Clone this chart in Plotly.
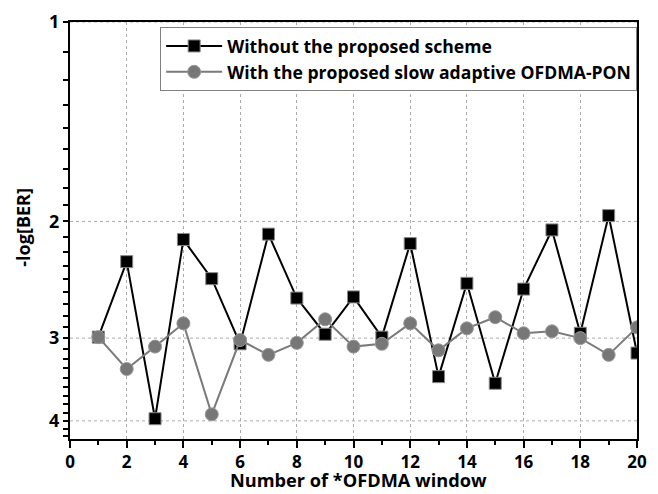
import numpy as np
import plotly.graph_objects as go

# OFDMA window index
windows = list(range(1, 21))

# -log[BER] per window
without_scheme = [2.99, 2.30, 3.97, 2.13, 2.44, 3.06, 2.09, 2.61, 2.96, 2.60,
                  2.99, 2.16, 3.43, 2.48, 3.51, 2.53, 2.06, 2.95, 1.96, 3.16]
with_scheme = [2.99, 3.34, 3.09, 2.85, 3.91, 3.02, 3.18, 3.05, 2.81, 3.09,
               3.06, 2.85, 3.13, 2.90, 2.79, 2.95, 2.93, 3.00, 3.18, 2.89]

y_major = [1, 2, 3, 4]
x_major = list(range(0, 21, 2))
y_top, y_bottom = 1.0, 4.26

# minor ticks: 8 between each pair of labelled values
y_minor = []
for a in y_major:
    for k in range(1, 9):
        v = a + k / 9
        if v < y_bottom:
            y_minor.append(v)

FONT = "Open Sans"


def lg(v):
    """Vertical axis is logarithmic: place values by log10."""
    return [float(x) for x in np.log10(np.asarray(v, dtype=float))]


# all vertical-axis ticks; only the major ones carry a label
y_tickvals = lg(y_major) + lg(y_minor)
y_ticktext = [str(v) for v in y_major] + [""] * len(y_minor)

fig = go.Figure()
fig.add_trace(go.Scatter(
    x=windows, y=lg(without_scheme), customdata=without_scheme,
    mode="lines+markers", name="Without the proposed scheme",
    hovertemplate="%{x}: %{customdata}<extra></extra>",
    line=dict(color="#000000", width=2),
    marker=dict(symbol="square", size=12, color="#000000",
                line=dict(color="#888888", width=1)),
))
fig.add_trace(go.Scatter(
    x=windows, y=lg(with_scheme), customdata=with_scheme,
    mode="lines+markers", name="With the proposed slow adaptive OFDMA-PON",
    hovertemplate="%{x}: %{customdata}<extra></extra>",
    line=dict(color="#7a7a7a", width=2),
    marker=dict(symbol="circle", size=13, color="#777777",
                line=dict(color="#999999", width=1)),
))

# dotted horizontal grid at the labelled values
for v in lg(y_major):
    fig.add_shape(type="line", xref="paper", yref="y",
                  x0=0, x1=1, y0=v, y1=v, layer="below",
                  line=dict(color="#aaaaaa", width=1, dash="dot"))

fig.update_layout(
    width=658, height=494,
    margin=dict(l=70, r=21, t=22, b=55, autoexpand=False),
    paper_bgcolor="white", plot_bgcolor="white",
    font=dict(family=FONT, color="#000000"),
    showlegend=True,
    legend=dict(
        x=0.159, y=0.988, xanchor="left", yanchor="top",
        bgcolor="white", bordercolor="#808080", borderwidth=1,
        font=dict(family=FONT, size=17.6, color="#000000", weight="bold"),
        itemwidth=56, tracegroupgap=0,
    ),
    yaxis=dict(
        type="linear", range=[lg([y_bottom])[0], lg([y_top])[0]],
        tickmode="array", tickvals=y_tickvals, ticktext=y_ticktext,
        ticks="outside", ticklen=5, tickwidth=1.5, tickcolor="#000000",
        showline=True, linecolor="#000000", linewidth=2, mirror=True,
        showgrid=False, zeroline=False, automargin=False,
        tickfont=dict(family=FONT, size=18, weight="bold"),
    ),
    xaxis=dict(
        range=[0, 20], tickvals=x_major, ticktext=[str(v) for v in x_major],
        ticks="outside", ticklen=7, tickwidth=1.5, tickcolor="#000000",
        minor=dict(dtick=1, ticks="outside", ticklen=4, tickcolor="#000000",
                   showgrid=False),
        showline=True, linecolor="#000000", linewidth=2, mirror=True,
        showgrid=True, gridcolor="#aaaaaa", griddash="dot", gridwidth=1,
        zeroline=False, automargin=False,
        tickfont=dict(family=FONT, size=17, weight="bold"),
    ),
    annotations=[
        dict(text="Number of *OFDMA window", xref="paper", yref="paper",
             x=0.508, y=-(494 - 439 - 1) / 417, xanchor="center",
             yanchor="bottom", showarrow=False, borderpad=0,
             font=dict(family=FONT, size=18.2, weight="bold")),
        dict(text="-log[BER]", xref="paper", yref="paper",
             x=-0.082, y=0.508, xanchor="center", yanchor="middle",
             textangle=-90, showarrow=False,
             font=dict(family=FONT, size=18, weight="bold")),
    ],
)

fig.write_html("out.html")
